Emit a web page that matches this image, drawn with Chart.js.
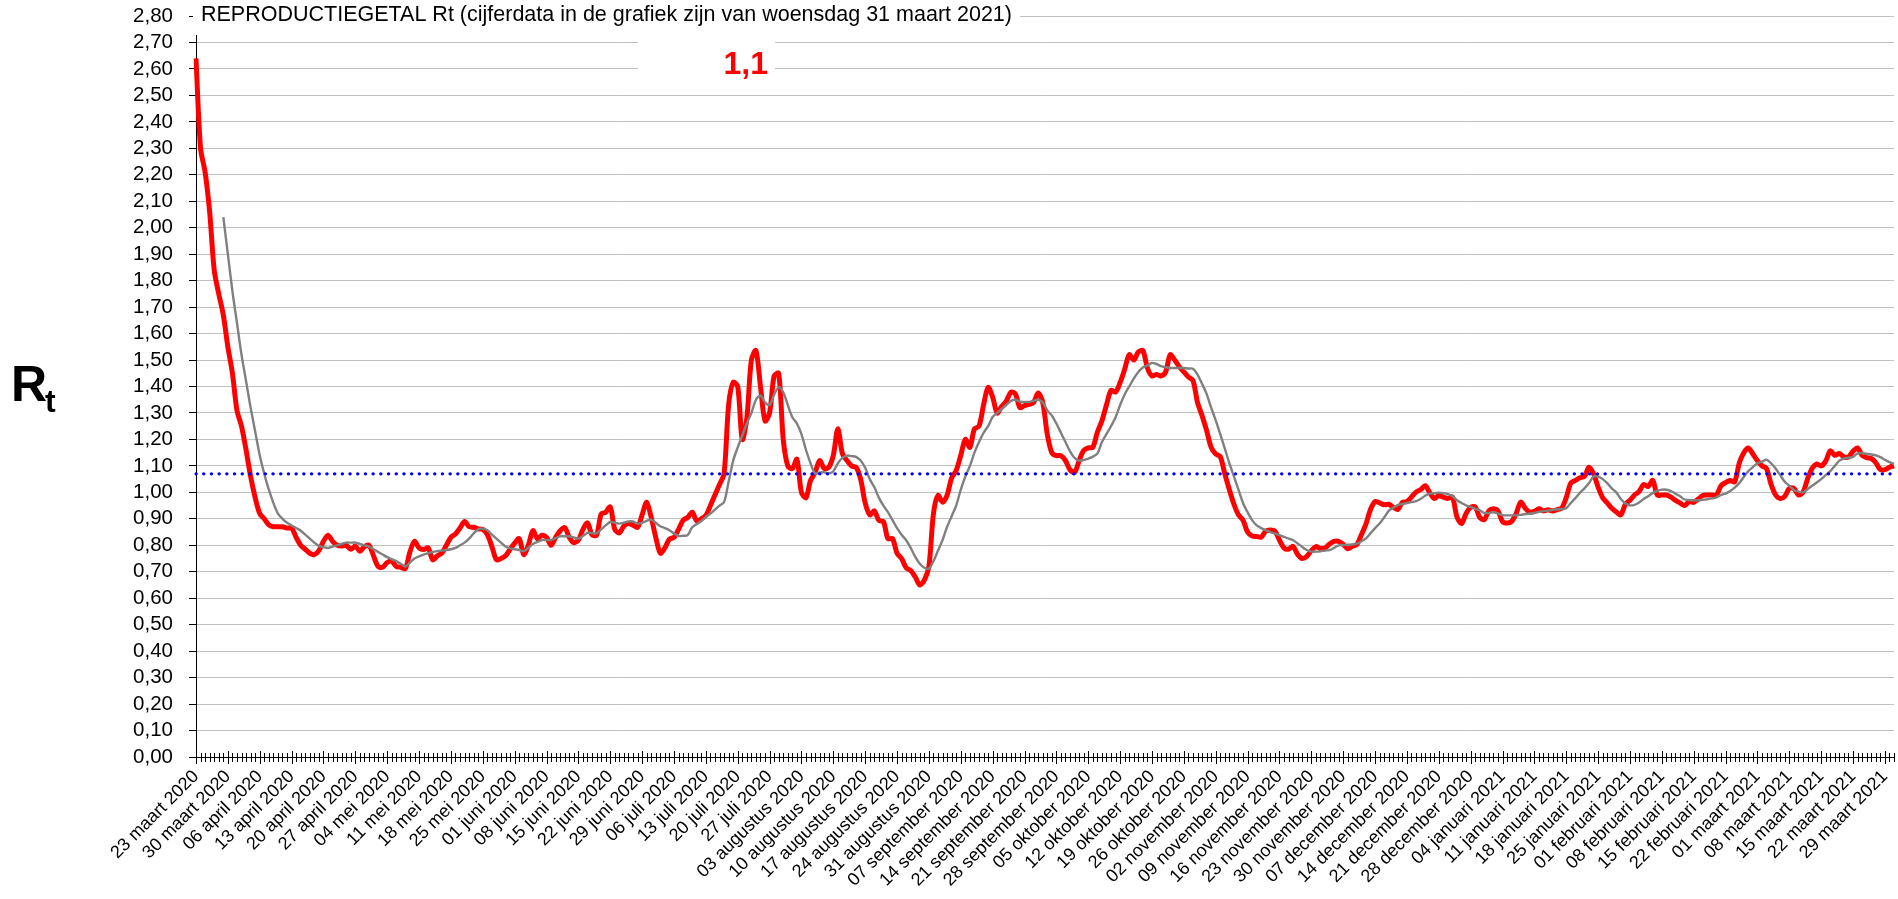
<!DOCTYPE html>
<html>
<head>
<meta charset="utf-8">
<title>Reproductiegetal Rt</title>
<script src="https://cdn.jsdelivr.net/npm/chart.js@4.4.1/dist/chart.umd.min.js"></script>
<style>
  html, body { margin: 0; padding: 0; background: #fff; }
  #wrap { width: 1898px; height: 899px; position: relative; }
</style>
</head>
<body>
<div id="wrap"><canvas id="rtChart"></canvas></div>
<script>
// ===============================
// Data (one value per day, 23 maart 2020 .. 31 maart 2021)
// ===============================
const weekLabels = [
  "23 maart 2020", "30 maart 2020", "06 april 2020", "13 april 2020", "20 april 2020",
  "27 april 2020", "04 mei 2020", "11 mei 2020", "18 mei 2020", "25 mei 2020",
  "01 juni 2020", "08 juni 2020", "15 juni 2020", "22 juni 2020", "29 juni 2020",
  "06 juli 2020", "13 juli 2020", "20 juli 2020", "27 juli 2020", "03 augustus 2020",
  "10 augustus 2020", "17 augustus 2020", "24 augustus 2020", "31 augustus 2020",
  "07 september 2020", "14 september 2020", "21 september 2020", "28 september 2020",
  "05 oktober 2020", "12 oktober 2020", "19 oktober 2020", "26 oktober 2020",
  "02 november 2020", "09 november 2020", "16 november 2020", "23 november 2020",
  "30 november 2020", "07 december 2020", "14 december 2020", "21 december 2020",
  "28 december 2020", "04 januari 2021", "11 januari 2021", "18 januari 2021",
  "25 januari 2021", "01 februari 2021", "08 februari 2021", "15 februari 2021",
  "22 februari 2021", "01 maart 2021", "08 maart 2021", "15 maart 2021",
  "22 maart 2021", "29 maart 2021"
];

// Rt per dag (rode lijn)
const rtValues = [
  2.64, 2.30, 2.21, 2.06, 1.84, 1.75, 1.67, 1.55, 1.45, 1.31,
  1.25, 1.16, 1.06, 0.98, 0.92, 0.90, 0.877, 0.87, 0.87, 0.87,
  0.865, 0.865, 0.83, 0.80, 0.785, 0.77, 0.765, 0.78, 0.815, 0.838,
  0.815, 0.80, 0.797, 0.80, 0.785, 0.797, 0.777, 0.795, 0.80, 0.76,
  0.72, 0.717, 0.735, 0.74, 0.72, 0.717, 0.712, 0.775, 0.815, 0.79,
  0.784, 0.79, 0.745, 0.76, 0.77, 0.80, 0.83, 0.843, 0.865, 0.89,
  0.87, 0.868, 0.862, 0.86, 0.84, 0.795, 0.745, 0.75, 0.76, 0.785,
  0.808, 0.825, 0.765, 0.80, 0.855, 0.825, 0.838, 0.83, 0.80, 0.83,
  0.855, 0.867, 0.83, 0.81, 0.82, 0.86, 0.885, 0.84, 0.838, 0.918,
  0.925, 0.945, 0.86, 0.847, 0.873, 0.882, 0.876, 0.868, 0.915, 0.963,
  0.905, 0.83, 0.77, 0.79, 0.823, 0.83, 0.86, 0.895, 0.905, 0.925,
  0.892, 0.90, 0.913, 0.95, 0.99, 1.03, 1.07, 1.33, 1.416, 1.40,
  1.20, 1.28, 1.50, 1.536, 1.40, 1.27, 1.30, 1.44, 1.45, 1.20,
  1.10, 1.09, 1.125, 1.00, 0.98, 1.045, 1.075, 1.12, 1.09, 1.095,
  1.14, 1.24, 1.146, 1.12, 1.10, 1.095, 1.05, 0.96, 0.915, 0.93,
  0.894, 0.89, 0.825, 0.825, 0.77, 0.75, 0.715, 0.705, 0.68, 0.65,
  0.668, 0.72, 0.92, 0.988, 0.963, 0.99, 1.055, 1.083, 1.14, 1.20,
  1.17, 1.24, 1.25, 1.33, 1.397, 1.36, 1.30, 1.325, 1.345, 1.378,
  1.372, 1.32, 1.328, 1.332, 1.34, 1.375, 1.34, 1.22, 1.15, 1.139,
  1.139, 1.12, 1.085, 1.075, 1.12, 1.158, 1.168, 1.17, 1.227, 1.27,
  1.33, 1.385, 1.379, 1.415, 1.465, 1.52, 1.50, 1.53, 1.536, 1.47,
  1.44, 1.445, 1.44, 1.455, 1.52, 1.50, 1.475, 1.455, 1.436, 1.423,
  1.34, 1.29, 1.234, 1.17, 1.145, 1.135, 1.07, 1.01, 0.955, 0.915,
  0.895, 0.85, 0.835, 0.833, 0.831, 0.854, 0.858, 0.853, 0.82, 0.79,
  0.785, 0.796, 0.765, 0.75, 0.758, 0.78, 0.795, 0.788, 0.79, 0.805,
  0.815, 0.815, 0.804, 0.787, 0.796, 0.803, 0.84, 0.88, 0.935, 0.965,
  0.96, 0.953, 0.955, 0.944, 0.935, 0.962, 0.965, 0.982, 1.001, 1.01,
  1.025, 1.00, 0.977, 0.988, 0.982, 0.977, 0.982, 0.907, 0.882, 0.92,
  0.944, 0.945, 0.905, 0.897, 0.93, 0.938, 0.93, 0.89, 0.884, 0.89,
  0.92, 0.963, 0.94, 0.925, 0.928, 0.938, 0.93, 0.934, 0.93, 0.935,
  0.94, 0.98, 1.035, 1.045, 1.055, 1.06, 1.095, 1.07, 1.02, 0.98,
  0.96, 0.94, 0.926, 0.915, 0.955, 0.97, 0.99, 1.003, 1.03, 1.022,
  1.045, 0.99, 0.99, 0.99, 0.982, 0.97, 0.96, 0.95, 0.965, 0.962,
  0.975, 0.988, 0.99, 0.99, 0.99, 1.025, 1.037, 1.045, 1.04, 1.11,
  1.15, 1.168, 1.145, 1.12, 1.10, 1.09, 1.03, 0.99, 0.977, 0.985,
  1.015, 1.015, 0.99, 1.00, 1.05, 1.09, 1.107, 1.10, 1.118, 1.157,
  1.14, 1.147, 1.134, 1.134, 1.155, 1.168, 1.14, 1.131, 1.128, 1.112,
  1.086, 1.086, 1.095, 1.10
];

// Voortschrijdend gemiddelde (grijze lijn), begint op dag 6
const avgValues = [
  null, null, null, null, null, null, 2.04, 1.90, 1.76, 1.64,
  1.52, 1.42, 1.32, 1.23, 1.14, 1.07, 1.01, 0.96, 0.92, 0.90,
  0.885, 0.875, 0.865, 0.855, 0.84, 0.825, 0.81, 0.797, 0.793, 0.79,
  0.795, 0.80, 0.805, 0.81, 0.81, 0.81, 0.805, 0.80, 0.795, 0.785,
  0.775, 0.765, 0.755, 0.748, 0.74, 0.73, 0.72, 0.735, 0.75, 0.758,
  0.765, 0.77, 0.775, 0.778, 0.78, 0.782, 0.785, 0.79, 0.80, 0.81,
  0.825, 0.845, 0.86, 0.863, 0.857, 0.84, 0.825, 0.81, 0.795, 0.788,
  0.785, 0.782, 0.778, 0.79, 0.805, 0.813, 0.82, 0.82, 0.82, 0.827,
  0.834, 0.834, 0.834, 0.83, 0.825, 0.835, 0.847, 0.846, 0.845, 0.86,
  0.875, 0.888, 0.885, 0.882, 0.885, 0.89, 0.89, 0.882, 0.885, 0.892,
  0.897, 0.885, 0.872, 0.865, 0.857, 0.845, 0.835, 0.836, 0.838, 0.868,
  0.88, 0.892, 0.907, 0.92, 0.935, 0.95, 0.963, 1.04, 1.12, 1.17,
  1.215, 1.26, 1.30, 1.35, 1.366, 1.34, 1.33, 1.37, 1.397, 1.378,
  1.33, 1.284, 1.26, 1.22, 1.16, 1.11, 1.072, 1.075, 1.076, 1.072,
  1.08, 1.11, 1.13, 1.139, 1.137, 1.134, 1.12, 1.093, 1.05, 1.02,
  0.98, 0.95, 0.925, 0.895, 0.865, 0.84, 0.819, 0.79, 0.756, 0.73,
  0.715, 0.712, 0.74, 0.78, 0.82, 0.87, 0.91, 0.951, 1.01, 1.06,
  1.10, 1.15, 1.19, 1.225, 1.25, 1.285, 1.30, 1.315, 1.33, 1.345,
  1.35, 1.343, 1.342, 1.342, 1.346, 1.35, 1.34, 1.31, 1.29, 1.26,
  1.225, 1.19, 1.155, 1.13, 1.12, 1.122, 1.127, 1.135, 1.146, 1.19,
  1.22, 1.25, 1.284, 1.33, 1.37, 1.40, 1.43, 1.455, 1.472, 1.48,
  1.489, 1.485, 1.477, 1.473, 1.47, 1.47, 1.47, 1.47, 1.468, 1.467,
  1.445, 1.41, 1.372, 1.32, 1.272, 1.22, 1.165, 1.11, 1.06, 1.01,
  0.96, 0.925, 0.895, 0.875, 0.865, 0.857, 0.85, 0.844, 0.838, 0.832,
  0.825, 0.819, 0.807, 0.794, 0.782, 0.776, 0.776, 0.777, 0.78, 0.782,
  0.79, 0.80, 0.801, 0.802, 0.803, 0.806, 0.815, 0.826, 0.845, 0.865,
  0.882, 0.905, 0.93, 0.942, 0.952, 0.956, 0.96, 0.963, 0.967, 0.975,
  0.987, 0.995, 0.997, 0.999, 0.997, 0.993, 0.985, 0.97, 0.96, 0.951,
  0.945, 0.938, 0.932, 0.922, 0.922, 0.925, 0.92, 0.914, 0.913, 0.913,
  0.913, 0.915, 0.918, 0.92, 0.922, 0.926, 0.929, 0.931, 0.934, 0.936,
  0.937, 0.94, 0.96, 0.978, 0.998, 1.015, 1.035, 1.06, 1.06, 1.05,
  1.035, 1.015, 1.00, 0.975, 0.958, 0.951, 0.953, 0.962, 0.975, 0.985,
  0.998, 1.006, 1.01, 1.01, 1.005, 0.995, 0.985, 0.973, 0.971, 0.97,
  0.97, 0.972, 0.974, 0.977, 0.981, 0.99, 0.995, 1.005, 1.018, 1.035,
  1.058, 1.08, 1.095, 1.11, 1.116, 1.123, 1.11, 1.09, 1.065, 1.04,
  1.025, 1.009, 1.003, 1.00, 1.012, 1.025, 1.037, 1.05, 1.065, 1.08,
  1.10, 1.12, 1.128, 1.131, 1.134, 1.147, 1.148, 1.146, 1.143, 1.14,
  1.133, 1.123, 1.114, 1.108
];

const referenceLine = 1.07;     // blauwe stippellijn
const currentValue = "1,1";     // rode annotatie
const titleText = "REPRODUCTIEGETAL Rt (cijferdata in de grafiek zijn van woensdag 31 maart 2021)";

// ===============================
// Helpers
// ===============================
const FONT = "'Liberation Sans', Arial, Helvetica, sans-serif";
const days = rtValues.map((_, i) => i);

function formatComma(value) {
  return value.toFixed(2).replace(".", ",");
}

// daily tick marks across the x axis, longer every week
const dayTicks = {
  id: "dayTicks",
  afterDraw(chart) {
    const { ctx, scales: { x } } = chart;
    const y0 = x.top;
    ctx.save();
    ctx.strokeStyle = "#000";
    ctx.lineWidth = 1;
    for (let i = 0; i < days.length; i++) {
      const px = Math.round(x.getPixelForValue(i)) + 0.5;
      const major = i % 7 === 0;
      ctx.beginPath();
      ctx.moveTo(px, y0 - (major ? 6 : 4));
      ctx.lineTo(px, y0 + (major ? 7 : 5));
      ctx.stroke();
    }
    ctx.restore();
  }
};

// title, current value box and the Rt axis label
const labels = {
  id: "labels",
  afterDraw(chart) {
    const { ctx, chartArea } = chart;
    ctx.save();

    ctx.font = `21.5px ${FONT}`;
    const w = ctx.measureText(titleText).width;
    ctx.fillStyle = "#fff";
    ctx.fillRect(chartArea.left - 3, 0, w + 16, 35);
    ctx.fillStyle = "#000";
    ctx.textBaseline = "alphabetic";
    ctx.textAlign = "left";
    ctx.fillText(titleText, chartArea.left + 5, 21);

    ctx.fillStyle = "#fff";
    ctx.fillRect(638, 28, 137, 56);
    ctx.fillStyle = "#ff0000";
    ctx.font = `bold 32px ${FONT}`;
    ctx.textAlign = "right";
    ctx.fillText(currentValue, 768, 74);

    ctx.fillStyle = "#000";
    ctx.textAlign = "left";
    ctx.font = `bold 50px ${FONT}`;
    ctx.fillText("R", 11, 401);
    ctx.font = `bold 32px ${FONT}`;
    ctx.fillText("t", 45, 412);

    ctx.restore();
  }
};

// ===============================
// Chart
// ===============================
const ctx = document.getElementById("rtChart").getContext("2d");

new Chart(ctx, {
  type: "line",
  data: {
    labels: days,
    datasets: [
      {
        label: "referentie",
        data: days.map(() => referenceLine),
        borderColor: "#0000ff",
        borderWidth: 3.4,
        borderDash: [0.1, 7.6],
        borderCapStyle: "round",
        pointRadius: 0,
        fill: false,
      },
      {
        label: "gemiddelde",
        data: avgValues,
        borderColor: "#808080",
        borderWidth: 2.4,
        pointRadius: 0,
        tension: 0.3,
        fill: false,
      },
      {
        label: "Rt",
        data: rtValues,
        borderColor: "#ff0000",
        borderWidth: 5,
        pointRadius: 0,
        tension: 0.3,
        borderJoinStyle: "round",
        fill: false,
      },
    ],
  },
  options: {
    responsive: true,
    maintainAspectRatio: false,
    animation: false,
    layout: { padding: { top: 16, right: 4, bottom: 0, left: 0 } },
    plugins: {
      legend: { display: false },
      tooltip: { enabled: false },
    },
    scales: {
      x: {
        type: "category",
        offset: false,
        afterFit(scale) {
          scale.height = 142;
          scale.paddingLeft = 0;
          scale.paddingRight = 0;
        },
        border: { color: "#000", width: 1 },
        grid: { display: false, drawOnChartArea: false, drawTicks: false },
        ticks: {
          autoSkip: false,
          maxRotation: 45,
          minRotation: 45,
          padding: 9,
          color: "#000",
          font: { family: FONT, size: 18 },
          callback: (value, i) => (i % 7 === 0 ? weekLabels[i / 7] : ""),
        },
      },
      y: {
        min: 0,
        max: 2.8,
        afterFit(scale) {
          scale.width = 196;
          scale.paddingTop = 0;
          scale.paddingBottom = 0;
        },
        border: { color: "#000", width: 1 },
        grid: {
          color: "#c0c0c0",
          lineWidth: 1,
          tickColor: "#000",
          tickLength: 7,
        },
        ticks: {
          stepSize: 0.1,
          autoSkip: false,
          padding: 16,
          color: "#000",
          font: { family: FONT, size: 20.5 },
          callback: (value) => formatComma(value),
        },
      },
    },
  },
  plugins: [dayTicks, labels],
});
</script>
</body>
</html>
